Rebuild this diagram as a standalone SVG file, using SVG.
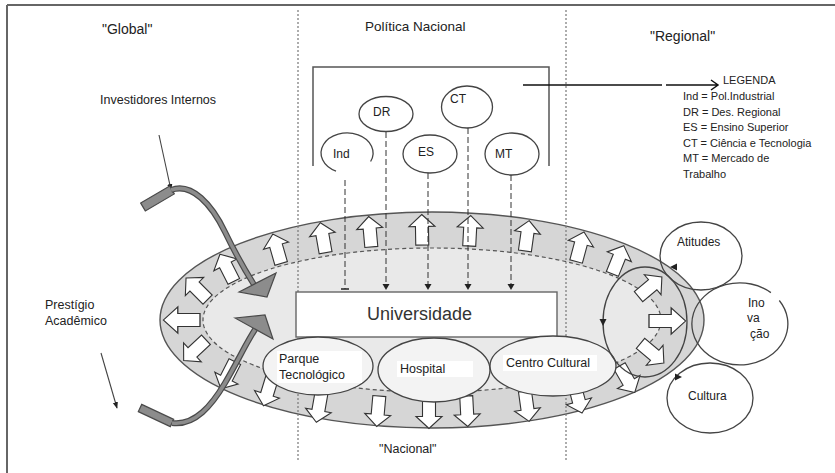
<svg xmlns="http://www.w3.org/2000/svg" width="835" height="473" viewBox="0 0 835 473">
<style>
text{font-family:"Liberation Sans",Arial,sans-serif;fill:#222;font-size:12px}
text.s11{font-size:11px}
text.s125{font-size:12.5px}
text.s135{font-size:13.5px}
text.s14{font-size:14px}
text.s18{font-size:18px;fill:#333}
.wa{fill:#fff;stroke:#333;stroke-width:1.1}
.vd{stroke:#777;stroke-width:1.2;stroke-dasharray:2,2;fill:none}
.dl{stroke:#333;stroke-width:1;stroke-dasharray:6,3;fill:none}
.el{fill:none;stroke:#444;stroke-width:1.3}
.we{fill:#f3f3f3;stroke:#444;stroke-width:1.3}
.cv{fill:none;stroke:#4a4a4a;stroke-width:6}
.cvi{fill:none;stroke:#8c8c8c;stroke-width:3.6}
.gp{fill:#8c8c8c;stroke:#4a4a4a;stroke-width:1.2}
.ah{fill:#222}
.tb{fill:#fff}
</style>
<defs>
<path id="ba" d="M0,-15.5 L13,-3.5 L6.5,-3.5 L6.5,15 L-6.5,15 L-6.5,-3.5 L-13,-3.5 Z"/>
<marker id="m" viewBox="0 0 10 10" refX="9" refY="5" markerWidth="6" markerHeight="6" orient="auto"><path d="M0,1 L10,5 L0,9 Z" fill="#222"/></marker>
</defs>

<g id="frame">
<line x1="7" y1="5" x2="835" y2="5" stroke="#666" stroke-width="2"/>
<line x1="7" y1="5" x2="7" y2="473" stroke="#666" stroke-width="2"/>
</g>

<g id="zone-labels">
<text class="s14" x="102" y="34">"Global"</text>
<text class="s135" x="365" y="31">Política Nacional</text>
<text class="s14" x="650" y="41">"Regional"</text>
<text class="s125" x="379" y="453">"Nacional"</text>
</g>

<g id="ring">
<ellipse cx="432" cy="320" rx="272" ry="108" fill="#d6d6d6" stroke="#555" stroke-width="1.4"/>
<ellipse cx="432" cy="320" rx="229" ry="72" fill="#e9e9e9" stroke="#555" stroke-width="1.2" stroke-dasharray="4,3"/>
</g>

<g id="ring-arrows" class="wa">
<use href="#ba" transform="translate(197,289) rotate(-45)"/>
<use href="#ba" transform="translate(227,268) rotate(-27)"/>
<use href="#ba" transform="translate(277,249) rotate(-16)"/>
<use href="#ba" transform="translate(323,238) rotate(-10)"/>
<use href="#ba" transform="translate(370,232) rotate(-5)"/>
<use href="#ba" transform="translate(422,230) rotate(-1)"/>
<use href="#ba" transform="translate(470,231) rotate(3)"/>
<use href="#ba" transform="translate(527,236) rotate(8)"/>
<use href="#ba" transform="translate(580,247) rotate(15)"/>
<use href="#ba" transform="translate(618,260) rotate(22)"/>
<use href="#ba" transform="translate(650,287) rotate(50)"/>
<use href="#ba" transform="translate(667,321) rotate(90) scale(1,1.2)"/>
<use href="#ba" transform="translate(652,353) rotate(130)"/>
<use href="#ba" transform="translate(627,379) rotate(150)"/>
<use href="#ba" transform="translate(578,398) rotate(165)"/>
<use href="#ba" transform="translate(527,406) rotate(172)"/>
<use href="#ba" transform="translate(467,411) rotate(177)"/>
<use href="#ba" transform="translate(429,413) rotate(180)"/>
<use href="#ba" transform="translate(378,411) rotate(185)"/>
<use href="#ba" transform="translate(319,407) rotate(190)"/>
<use href="#ba" transform="translate(268,391) rotate(197)"/>
<use href="#ba" transform="translate(228,375) rotate(207)"/>
<use href="#ba" transform="translate(195,350) rotate(227)"/>
<use href="#ba" transform="translate(182,320) rotate(270) scale(1,1.2)"/>
</g>

<g id="zone-dividers">
<line class="vd" x1="298" y1="10" x2="298" y2="462"/>
<line class="vd" x1="566" y1="10" x2="566" y2="462"/>
</g>

<g id="universidade">
<rect x="296" y="292" width="261" height="45" fill="#fff" stroke="#666" stroke-width="1.4"/>
<text class="s18" x="367" y="320">Universidade</text>
</g>

<g id="parque">
<ellipse class="we" cx="318" cy="366" rx="55" ry="29"/>
<rect class="tb" x="277" y="351" width="85" height="32"/>
<text class="s125" x="279" y="363">Parque</text>
<text class="s125" x="279" y="379">Tecnológico</text>
</g>

<g id="hospital">
<ellipse class="we" cx="434" cy="370" rx="56" ry="32"/>
<rect class="tb" x="397" y="361" width="76" height="16"/>
<text class="s125" x="400" y="373">Hospital</text>
</g>

<g id="centro-cultural">
<ellipse class="we" cx="553" cy="366" rx="63" ry="30"/>
<rect class="tb" x="503" y="355" width="94" height="16"/>
<text class="s125" x="506" y="367">Centro Cultural</text>
</g>

<g id="politica-bracket">
<path d="M313,166 V67 H549 V166" fill="none" stroke="#555" stroke-width="1.5"/>
</g>

<g id="ind">
<path class="el" d="M336,171.1 A26,20 0 1 1 370.6,161.5"/>
<text x="333" y="158">Ind</text>
</g>
<g id="dr">
<ellipse class="el" cx="386" cy="114" rx="27" ry="17.5"/>
<text x="373" y="116">DR</text>
</g>
<g id="ct">
<ellipse class="el" cx="467" cy="107" rx="25.5" ry="21"/>
<text x="450" y="103">CT</text>
</g>
<g id="es">
<ellipse class="el" cx="430" cy="154" rx="27" ry="19"/>
<text x="418" y="156">ES</text>
</g>
<g id="mt">
<ellipse class="el" cx="512" cy="154" rx="27" ry="21"/>
<text x="495" y="158">MT</text>
</g>

<g id="legenda">
<text class="s11" x="723" y="84">LEGENDA</text>
<text class="s11" x="683" y="100">Ind = Pol.Industrial</text>
<text class="s11" x="683" y="115.5">DR = Des. Regional</text>
<text class="s11" x="683" y="131">ES = Ensino Superior</text>
<text class="s11" x="683" y="146.5">CT = Ciência e Tecnologia</text>
<text class="s11" x="683" y="162">MT = Mercado de</text>
<text class="s11" x="683" y="177.5">Trabalho</text>
</g>

<g id="atitudes">
<ellipse class="el" cx="701" cy="256" rx="41" ry="34"/>
<text x="677" y="246">Atitudes</text>
</g>
<g id="inovacao">
<path class="el" d="M779.3,300.5 A48,41 0 1 1 770.9,292.6"/>
<text x="748" y="307">Ino</text>
<text x="747" y="322">va</text>
<text x="750" y="338">ção</text>
</g>
<g id="cultura">
<ellipse class="el" cx="710" cy="398" rx="43" ry="35"/>
<text x="688" y="400">Cultura</text>
</g>

<g id="labels-left">
<text class="s125" x="100" y="104">Investidores Internos</text>
<text class="s125" x="45" y="309">Prestígio</text>
<text class="s125" x="45" y="325">Acadêmico</text>
</g>

<g id="connectors">
<line class="dl" x1="345" y1="180" x2="345" y2="289"/>
<line x1="341" y1="289" x2="349" y2="289" stroke="#222" stroke-width="1.5"/>
<line class="dl" x1="386" y1="132" x2="386" y2="285"/>
<polygon class="ah" points="382.5,284 389.5,284 386,290"/>
<line class="dl" x1="428" y1="173" x2="428" y2="285"/>
<polygon class="ah" points="424.5,284 431.5,284 428,290"/>
<line class="dl" x1="468" y1="128" x2="468" y2="285"/>
<polygon class="ah" points="464.5,284 471.5,284 468,290"/>
<line class="dl" x1="511" y1="175" x2="511" y2="285"/>
<polygon class="ah" points="507.5,284 514.5,284 511,290"/>
<path d="M523,85 H662 M666,85 H718 M711,80 L718,85 L711,90" fill="none" stroke="#111" stroke-width="1.5"/>
<line x1="159" y1="135" x2="171" y2="190" stroke="#444" stroke-width="1.1" marker-end="url(#m)"/>
<line x1="101" y1="353" x2="117" y2="408" stroke="#444" stroke-width="1.1" marker-end="url(#m)"/>
<polygon class="gp" points="140.7,203.1 169.7,186.1 174.3,193.9 145.3,210.9"/>
<path class="cv" d="M171,190 C192,182 212,205 225,232 S246,272 256,288"/>
<path class="cvi" d="M171,190 C192,182 212,205 225,232 S246,272 256,288"/>
<polygon class="gp" points="239,292 276,273 267,297"/>
<polygon class="gp" points="141.7,404.4 173.7,419.4 170.3,426.6 138.3,411.6"/>
<path class="cv" d="M172,423 C195,426 212,405 225,383 S246,343 256,328"/>
<path class="cvi" d="M172,423 C195,426 212,405 225,383 S246,343 256,328"/>
<polygon class="gp" points="235,318 265,315 273,339"/>
<ellipse class="el" cx="645" cy="322" rx="42" ry="55"/>
<polygon class="ah" points="670,267 677,263.5 677,270.5"/>
<polygon class="ah" points="599.5,319 606.5,319 603,326"/>
<polygon class="ah" points="682,377 675,373.5 675,380.5"/>
</g>
</svg>
